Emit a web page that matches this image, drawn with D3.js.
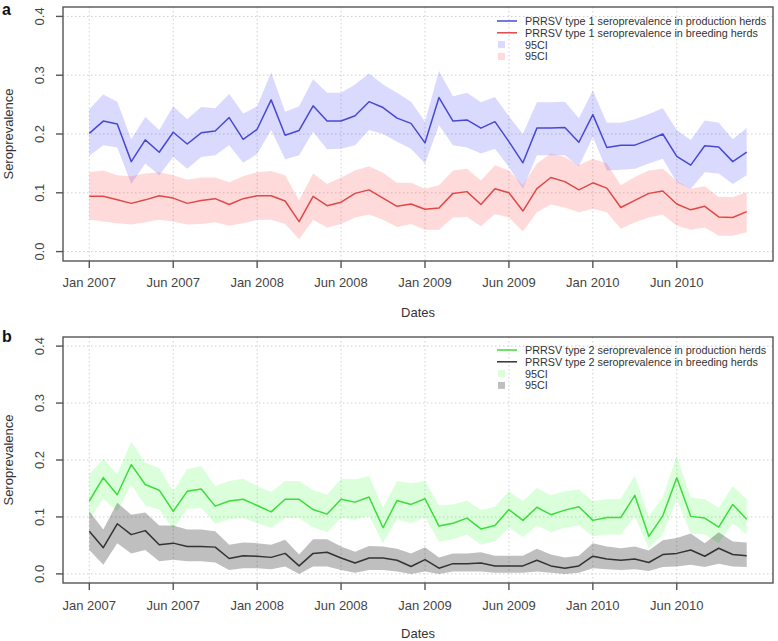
<!DOCTYPE html>
<html><head><meta charset="utf-8">
<script src="https://cdn.jsdelivr.net/npm/d3@7/dist/d3.min.js"></script>
<style>body{margin:0;background:#fff} svg{display:block;font-family:"Liberation Sans",Arial,sans-serif}</style>
</head><body><svg id="c" width="778" height="641"></svg>
<script>
// ---- data ----
const tickLabels = ["Jan 2007","Jun 2007","Jan 2008","Jun 2008","Jan 2009","Jun 2009","Jan 2010","Jun 2010"];
const tickIndex = [0,6,12,18,24,30,36,42];
const yTicks = [0,0.1,0.2,0.3,0.4];
const nMonths = 48;

const t1Prod = [.201,.222,.217,.153,.190,.169,.203,.183,.202,.205,.228,.191,.208,.258,.198,.206,.248,.222,.222,.231,.255,.245,.227,.218,.185,.262,.222,.224,.210,.221,.187,.151,.210,.210,.211,.186,.233,.177,.181,.181,.190,.200,.162,.147,.180,.178,.153,.169];
const t1ProdHi = [.242,.267,.255,.191,.229,.207,.247,.225,.246,.244,.268,.235,.247,.305,.238,.247,.293,.270,.270,.284,.303,.284,.270,.255,.221,.307,.264,.270,.254,.263,.230,.200,.254,.254,.255,.227,.274,.219,.219,.225,.234,.244,.207,.190,.223,.219,.191,.210];
const t1ProdLo = [.163,.181,.177,.115,.150,.130,.161,.141,.161,.164,.181,.151,.166,.207,.157,.164,.204,.174,.175,.181,.207,.200,.187,.175,.150,.215,.181,.177,.167,.175,.144,.107,.164,.164,.164,.145,.195,.138,.139,.141,.150,.158,.118,.107,.135,.133,.115,.130];
const t1Breed = [.094,.094,.088,.082,.088,.095,.091,.082,.087,.090,.080,.090,.095,.095,.086,.051,.094,.078,.084,.099,.105,.091,.077,.081,.072,.074,.099,.102,.080,.107,.100,.069,.107,.126,.119,.105,.117,.108,.075,.087,.099,.103,.081,.071,.077,.059,.058,.068];
const t1BreedHi = [.135,.138,.130,.128,.133,.135,.130,.122,.126,.126,.118,.128,.135,.137,.130,.087,.133,.115,.126,.138,.145,.134,.117,.117,.107,.113,.138,.141,.121,.147,.138,.113,.150,.167,.161,.147,.158,.150,.113,.127,.138,.141,.120,.107,.111,.093,.093,.101];
const t1BreedLo = [.054,.051,.048,.046,.050,.054,.051,.046,.047,.050,.044,.048,.054,.054,.047,.021,.054,.041,.047,.058,.063,.054,.042,.047,.037,.037,.058,.059,.043,.064,.058,.034,.067,.080,.075,.067,.073,.067,.039,.050,.058,.063,.044,.037,.041,.027,.027,.033];

const t2Prod = [.128,.169,.139,.192,.157,.147,.110,.145,.149,.119,.128,.131,.120,.109,.131,.131,.113,.105,.131,.126,.135,.081,.129,.122,.132,.084,.089,.098,.079,.085,.113,.094,.117,.104,.112,.118,.094,.099,.099,.138,.066,.102,.169,.101,.098,.082,.122,.096];
const t2ProdHi = [.175,.202,.175,.232,.195,.186,.145,.184,.189,.154,.163,.167,.154,.144,.163,.163,.147,.139,.167,.166,.172,.116,.163,.159,.163,.120,.122,.129,.112,.118,.145,.128,.151,.138,.145,.148,.128,.131,.132,.173,.101,.135,.207,.134,.131,.116,.154,.131];
const t2ProdLo = [.096,.132,.110,.157,.120,.113,.079,.114,.116,.088,.096,.098,.089,.081,.098,.098,.082,.073,.098,.095,.102,.054,.096,.089,.100,.057,.061,.069,.051,.057,.081,.065,.085,.073,.081,.085,.066,.069,.069,.101,.045,.069,.131,.071,.069,.054,.089,.069];
const t2Breed = [.075,.046,.088,.069,.076,.051,.054,.048,.048,.047,.027,.032,.031,.029,.036,.014,.036,.038,.028,.019,.028,.028,.024,.013,.025,.010,.018,.018,.019,.014,.014,.014,.024,.014,.010,.014,.031,.026,.024,.026,.020,.034,.036,.042,.031,.045,.034,.032];
const t2BreedHi = [.110,.078,.125,.104,.108,.085,.085,.078,.078,.075,.051,.055,.054,.051,.060,.034,.061,.061,.048,.039,.049,.048,.044,.036,.047,.029,.036,.036,.038,.032,.032,.032,.044,.034,.029,.032,.054,.048,.045,.048,.041,.059,.063,.071,.054,.073,.057,.055];
const t2BreedLo = [.042,.016,.054,.036,.042,.022,.025,.022,.022,.020,.007,.010,.010,.008,.013,.000,.013,.013,.007,.002,.007,.007,.004,.000,.004,.000,.004,.004,.004,.002,.002,.002,.004,.002,.000,.002,.010,.008,.007,.008,.005,.012,.013,.016,.012,.018,.013,.012];

// ---- drawing ----
const svg = d3.select("#c");
const left = 63, right = 773;
const x = d3.scaleLinear().domain([-0.04*(nMonths-1), (nMonths-1)*1.04]).range([left, right]);

const panels = [
  {tag:"a", top:7, bottom:261, tagY:15, xLabY:287, datesY:317, legY:21,
   series:[
     {mid:t1Prod, lo:t1ProdLo, hi:t1ProdHi, line:"#4848d4", band:"rgba(60,60,255,0.19)", name:"PRRSV type 1 seroprevalence in production herds"},
     {mid:t1Breed, lo:t1BreedLo, hi:t1BreedHi, line:"#e04848", band:"rgba(255,70,70,0.20)", name:"PRRSV type 1 seroprevalence in breeding herds"}
   ]},
  {tag:"b", top:337, bottom:583, tagY:342, xLabY:610, datesY:638, legY:350,
   series:[
     {mid:t2Prod, lo:t2ProdLo, hi:t2ProdHi, line:"#3ddc3d", band:"rgba(60,255,60,0.19)", name:"PRRSV type 2 seroprevalence in production herds"},
     {mid:t2Breed, lo:t2BreedLo, hi:t2BreedHi, line:"#333333", band:"rgba(0,0,0,0.25)", name:"PRRSV type 2 seroprevalence in breeding herds"}
   ]}
];

panels.forEach(p => {
  const g = svg.append("g");
  const h = p.bottom - p.top;
  const y = d3.scaleLinear().domain([-0.016, 0.416]).range([p.bottom, p.top]);

  // grid
  g.selectAll(".gx").data(tickIndex).join("line")
    .attr("x1", d => x(d)).attr("x2", d => x(d)).attr("y1", p.top).attr("y2", p.bottom)
    .attr("stroke", "#cfcfcf").attr("stroke-dasharray", "1.5,2.5");
  g.selectAll(".gy").data(yTicks).join("line")
    .attr("x1", left).attr("x2", right).attr("y1", d => y(d)).attr("y2", d => y(d))
    .attr("stroke", "#cfcfcf").attr("stroke-dasharray", "1.5,2.5");

  // bands
  p.series.forEach(s => {
    const area = d3.area().x((d, i) => x(i)).y0((d, i) => y(s.lo[i])).y1((d, i) => y(s.hi[i]));
    g.append("path").datum(s.mid).attr("d", area).attr("fill", s.band);
  });
  // lines
  p.series.forEach(s => {
    const line = d3.line().x((d, i) => x(i)).y(d => y(d));
    g.append("path").datum(s.mid).attr("d", line).attr("fill", "none")
      .attr("stroke", s.line).attr("stroke-width", 1.5).attr("stroke-linejoin", "round");
  });

  // box
  g.append("rect").attr("x", left).attr("y", p.top).attr("width", right - left).attr("height", h)
    .attr("fill", "none").attr("stroke", "#555").attr("stroke-width", 1.4);

  // y axis ticks & labels
  g.selectAll(".yt").data(yTicks).join("line")
    .attr("x1", left - 7).attr("x2", left).attr("y1", d => y(d)).attr("y2", d => y(d))
    .attr("stroke", "#555").attr("stroke-width", 1.4);
  g.selectAll(".yl").data(yTicks).join("text")
    .attr("transform", d => `translate(43.5,${y(d)}) rotate(-90)`)
    .attr("text-anchor", "middle").attr("font-size", 13).attr("fill", "#444")
    .text(d => d.toFixed(1));

  // x axis ticks & labels
  g.selectAll(".xt").data(tickIndex).join("line")
    .attr("x1", d => x(d)).attr("x2", d => x(d)).attr("y1", p.bottom).attr("y2", p.bottom + 7)
    .attr("stroke", "#555").attr("stroke-width", 1.4);
  g.selectAll(".xl").data(tickIndex).join("text")
    .attr("x", d => x(d)).attr("y", p.xLabY).attr("text-anchor", "middle")
    .attr("font-size", 13).attr("fill", "#444")
    .text((d, i) => tickLabels[i]);

  // axis titles
  g.append("text").attr("x", (left + right) / 2).attr("y", p.datesY).attr("text-anchor", "middle")
    .attr("font-size", 13).attr("fill", "#333").text("Dates");
  g.append("text").attr("transform", `translate(12.5,${(p.top + p.bottom) / 2}) rotate(-90)`)
    .attr("text-anchor", "middle").attr("font-size", 13).attr("fill", "#333").text("Seroprevalence");

  // panel tag
  g.append("text").attr("x", 2).attr("y", p.tagY).attr("font-size", 16).attr("font-weight", "bold")
    .attr("fill", "#111").text(p.tag);

  // legend
  const lx = 497, tx = 525, step = 11.8;
  p.series.forEach((s, i) => {
    const yy = p.legY + i * step;
    g.append("line").attr("x1", lx).attr("x2", lx + 20).attr("y1", yy).attr("y2", yy)
      .attr("stroke", s.line).attr("stroke-width", 1.5);
    g.append("text").attr("x", tx).attr("y", yy + 4).attr("font-size", 10.8).attr("fill", "#333").text(s.name);
  });
  p.series.forEach((s, i) => {
    const yy = p.legY + (i + 2) * step;
    g.append("rect").attr("x", lx + 1).attr("y", yy - 3.5).attr("width", 7).attr("height", 7).attr("fill", s.band);
    g.append("text").attr("x", tx).attr("y", yy + 4).attr("font-size", 10.8).attr("fill", "#333").text("95CI");
  });
});
</script>
</body></html>
